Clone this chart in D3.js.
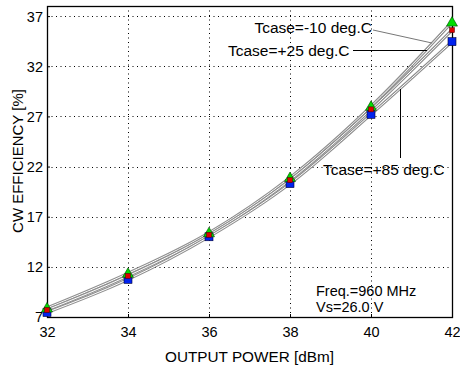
<!DOCTYPE html>
<html>
<head>
<meta charset="utf-8">
<script src="https://cdn.jsdelivr.net/npm/d3@7"></script>
<style>
  html, body { margin: 0; padding: 0; background: #fff; }
  svg { display: block; font-family: "Liberation Sans", Arial, sans-serif; }
</style>
</head>
<body>
<svg id="chart" width="460" height="369"></svg>
<script>
// Output power sweep (dBm)
const outputPower = [32, 34, 36, 38, 40, 42];
// CW efficiency (%) per case temperature
const effMinus10 = [7.9, 11.35, 15.4, 20.9, 28.0, 36.4];
const effPlus25  = [7.7, 11.1, 15.2, 20.65, 27.7, 35.6];
const effPlus85  = [7.45, 10.75, 15.0, 20.3, 27.2, 34.45];

const xTicks = [32, 34, 36, 38, 40, 42];
const yTicks = [7, 12, 17, 22, 27, 32, 37];

const seriesLabels = ["Tcase=-10 deg.C", "Tcase=+25 deg.C", "Tcase=+85 deg.C"];
const noteLines = ["Freq.=960 MHz", "Vs=26.0 V"];

const svg = d3.select("#chart");
const plotLeft = 47, plotRight = 452, plotTop = 6, plotBottom = 317;

const x = d3.scaleLinear().domain([32, 42]).range([plotLeft, plotRight]);
const y = d3.scaleLinear().domain([7, 37]).range([plotBottom, plotBottom - 30 * 10.03]);

// dotted grid
const grid = svg.append("g").attr("stroke", "#000").attr("stroke-width", 1)
  .attr("stroke-dasharray", "1,3.5");
grid.selectAll("line.v").data(xTicks.filter(d => d > 32 && d < 42)).join("line")
  .attr("x1", d => Math.round(x(d)) + 0.5).attr("x2", d => Math.round(x(d)) + 0.5)
  .attr("y1", plotTop).attr("y2", plotBottom);
grid.selectAll("line.h").data(yTicks.filter(d => d > 7)).join("line")
  .attr("x1", plotLeft).attr("x2", plotRight)
  .attr("y1", d => Math.round(y(d)) + 0.5).attr("y2", d => Math.round(y(d)) + 0.5);

// axes with short inward ticks
const xAxis = d3.axisBottom(x).tickValues(xTicks).tickSize(-3).tickPadding(8).tickFormat(d3.format("d"));
const yAxis = d3.axisLeft(y).tickValues(yTicks).tickSize(-3).tickPadding(4).tickFormat(d3.format("d"));
const gx = svg.append("g").attr("transform", `translate(0,${plotBottom})`).call(xAxis);
const gy = svg.append("g").attr("transform", `translate(${plotLeft},0)`).call(yAxis);
[gx, gy].forEach(g => {
  g.select(".domain").remove();
  g.selectAll("text").attr("font-size", 14.5).attr("fill", "#000")
    .attr("font-family", "'Liberation Sans', Arial, sans-serif");
  g.selectAll("line").attr("stroke", "#000");
});
gy.selectAll(".tick text").attr("x", -4).attr("dy", "0.35em");
gy.selectAll(".tick").filter(d => d === 7).select("text").attr("dy", "0.3em");
gx.selectAll(".tick text").attr("y", 20).attr("dy", 0);

// frame
svg.append("rect").attr("x", plotLeft + 0.5).attr("y", plotTop + 0.5)
  .attr("width", plotRight - plotLeft).attr("height", plotBottom - plotTop)
  .attr("fill", "none").attr("stroke", "#000").attr("stroke-width", 1.3);

// curves drawn as gray double lines
const line = d3.line().x((d, i) => x(outputPower[i])).y(d => y(d)).curve(d3.curveMonotoneX);
const allSeries = [effMinus10, effPlus25, effPlus85];
const curves = svg.append("g");
allSeries.forEach(s => {
  curves.append("path").attr("d", line(s)).attr("fill", "none")
    .attr("stroke", "#8f8f8f").attr("stroke-width", 3);
  curves.append("path").attr("d", line(s)).attr("fill", "none")
    .attr("stroke", "#fff").attr("stroke-width", 1);
});

// markers
const mk = svg.append("g");
mk.selectAll("rect.b").data(effPlus85).join("rect")
  .attr("x", (d, i) => x(outputPower[i]) - 4).attr("y", d => y(d) - 4)
  .attr("width", 8).attr("height", 8)
  .attr("fill", "#0022ee").attr("stroke", "#000033").attr("stroke-width", 0.6);
mk.selectAll("path.g").data(effMinus10).join("path")
  .attr("transform", (d, i) => `translate(${x(outputPower[i])},${y(d)})`)
  .attr("d", "M0,-5.5 L5.5,4 L-5.5,4 Z")
  .attr("fill", "#00dd00").attr("stroke", "#004400").attr("stroke-width", 0.6);
mk.selectAll("rect.r").data(effPlus25).join("rect")
  .attr("x", (d, i) => x(outputPower[i]) - 2.5).attr("y", d => y(d) - 2.5)
  .attr("width", 5).attr("height", 5)
  .attr("fill", "#dd0000").attr("stroke", "#440000").attr("stroke-width", 0.5);

// series annotations with leader lines
const ann = svg.append("g").attr("font-size", 15.5).attr("fill", "#000");
svg.append("line").attr("x1", 373).attr("y1", 30).attr("x2", 432).attr("y2", 43)
  .attr("stroke", "#777").attr("stroke-width", 1);
svg.append("line").attr("x1", 353).attr("y1", 50.5).attr("x2", 427).attr("y2", 50.5)
  .attr("stroke", "#000").attr("stroke-width", 1);
svg.append("line").attr("x1", 400.5).attr("y1", 89).attr("x2", 400.5).attr("y2", 158)
  .attr("stroke", "#000").attr("stroke-width", 1);
ann.append("text").attr("x", 372).attr("y", 33).attr("text-anchor", "end").text(seriesLabels[0]);
ann.append("text").attr("x", 228).attr("y", 56).text(seriesLabels[1]);
ann.append("text").attr("x", 323).attr("y", 175).text(seriesLabels[2]);

// test conditions
const note = svg.append("g").attr("font-size", 14.5).attr("fill", "#000");
noteLines.forEach((t, i) => note.append("text").attr("x", 316).attr("y", 296 + i * 15.5).text(t));

// axis titles
svg.append("text").attr("x", (plotLeft + plotRight) / 2).attr("y", 362).attr("text-anchor", "middle")
  .attr("font-size", 15.3).text("OUTPUT POWER [dBm]");
svg.append("text").attr("transform", `translate(23,161) rotate(-90)`)
  .attr("text-anchor", "middle").attr("font-size", 15).text("CW EFFICIENCY [%]");
</script>
</body>
</html>
